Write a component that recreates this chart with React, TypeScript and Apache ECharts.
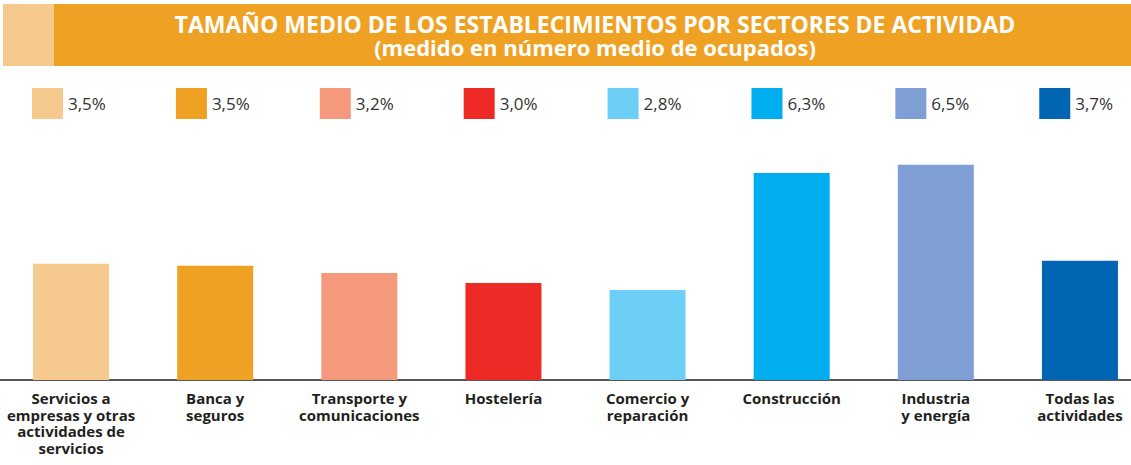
import React, { useEffect, useRef } from 'react';
import * as echarts from 'echarts';

const categories = [
  'Servicios a empresas y otras actividades de servicios',
  'Banca y seguros',
  'Transporte y comunicaciones',
  'Hostelería',
  'Comercio y reparación',
  'Construcción',
  'Industria y energía',
  'Todas las actividades',
];
const axisLabels = [
  'Servicios a\nempresas y otras\nactividades de\nservicios',
  'Banca y\nseguros',
  'Transporte y\ncomunicaciones',
  'Hostelería',
  'Comercio y\nreparación',
  'Construcción',
  'Industria\ny energía',
  'Todas las\nactividades',
];
const values = [3.52, 3.46, 3.24, 2.94, 2.73, 6.27, 6.52, 3.61];
const legendLabels = ['3,5%', '3,5%', '3,2%', '3,0%', '2,8%', '6,3%', '6,5%', '3,7%'];
const colors = ['#F6CA8E', '#EFA124', '#F5997C', '#EE2A27', '#6DCFF6', '#00AEEF', '#7F9FD4', '#0066B3'];
const titleText = 'TAMAÑO MEDIO DE LOS ESTABLECIMIENTOS POR SECTORES DE ACTIVIDAD';
const subtitleText = '(medido en número medio de ocupados)';

const FONT = '"Open Sans", "Noto Sans", sans-serif';

export default function App() {
  const ref = useRef<HTMLDivElement>(null);
  useEffect(() => {
    if (!ref.current) return;
    const chart = echarts.init(ref.current, undefined, { renderer: 'svg' });
    chart.setOption({
      animation: false,
      backgroundColor: '#ffffff',
      textStyle: { fontFamily: FONT },
      graphic: [
        { type: 'rect', z: -1, shape: { x: 3, y: 4, width: 1128, height: 62 }, style: { fill: '#EFA124' } },
        { type: 'rect', z: -1, shape: { x: 3, y: 4, width: 51, height: 62 }, style: { fill: '#F6C98D' } },
      ],
      title: {
        text: titleText,
        subtext: subtitleText,
        left: 595,
        top: 13,
        textAlign: 'center',
        itemGap: 0,
        padding: 0,
        textStyle: { color: '#ffffff', fontSize: 23, fontWeight: 'bold', fontFamily: FONT, lineHeight: 22 },
        subtextStyle: { color: '#ffffff', fontSize: 22, fontWeight: 'bold', fontFamily: FONT, lineHeight: 21 },
      },
      legend: {
        data: categories,
        left: 32,
        top: 88,
        width: 1120,
        icon: 'rect',
        itemWidth: 31,
        itemHeight: 31,
        itemGap: 70,
        padding: 0,
        selectedMode: false,
        formatter: (name: string) => legendLabels[categories.indexOf(name)],
        textStyle: { fontSize: 17, color: '#333333', fontFamily: FONT },
      },
      grid: { left: -1, right: -21, top: 149, bottom: 85, outerBoundsMode: 'none', containLabel: false },
      xAxis: {
        type: 'category',
        data: categories,
        axisTick: { show: false },
        axisLine: { lineStyle: { color: '#231F20', width: 1.5 } },
        axisLabel: {
          interval: 0,
          formatter: (_v: string, i: number) => axisLabels[i],
          fontWeight: 'bold',
          fontSize: 15,
          lineHeight: 16.5,
          color: '#231F20',
          fontFamily: FONT,
          margin: 10,
        },
      },
      yAxis: { type: 'value', min: 0, max: 7, show: false, splitLine: { show: false } },
      series: categories.map((c, i) => ({
        name: c,
        type: 'bar',
        stack: 'all',
        barWidth: 76,
        itemStyle: { color: colors[i] },
        data: categories.map((_, j) => (j === i ? values[i] : null)),
      })),
    });
    return () => chart.dispose();
  }, []);
  return <div ref={ref} style={{ position: 'absolute', left: 0, top: 0, width: 1131, height: 465 }} />;
}
